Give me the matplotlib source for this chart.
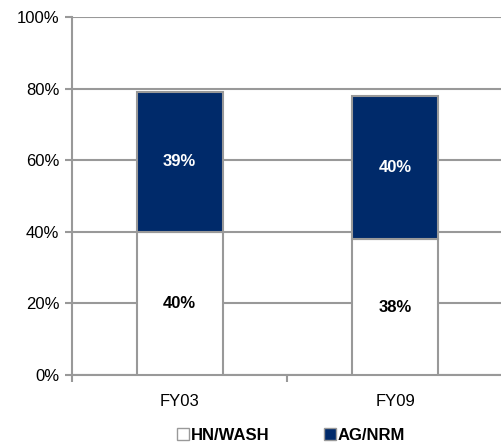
import matplotlib.pyplot as plt
from matplotlib.lines import Line2D

plt.rcParams['font.family'] = ['Liberation Sans', 'DejaVu Sans']

categories = ['FY03', 'FY09']
hn_wash = [40, 38]
ag_nrm = [39, 40]
hn_labels = ['40%', '38%']
ag_labels = ['39%', '40%']

navy = '#002a6a'
grey = '#999999'

fig = plt.figure(figsize=(5.01, 4.47), dpi=100)
ax = fig.add_axes([0.1437, 0.161, 0.86, 0.801])

x = range(len(categories))
b1 = ax.bar(x, hn_wash, width=0.4, color='white', edgecolor=grey, linewidth=1.5, zorder=3)
b2 = ax.bar(x, ag_nrm, width=0.4, bottom=hn_wash, color=navy, edgecolor=grey, linewidth=1.5, zorder=3)

for i in x:
    ax.text(i, hn_wash[i] / 2, hn_labels[i], ha='center', va='center',
            fontsize=12, fontweight='bold', color='black', zorder=4)
    ax.text(i, hn_wash[i] + ag_nrm[i] / 2, ag_labels[i], ha='center', va='center',
            fontsize=12, fontweight='bold', color='white', zorder=4)

ax.set_xlim(-0.5, 1.5)
ax.set_ylim(0, 100)
ax.set_yticks(range(0, 101, 20))
ax.set_yticklabels([f'{v}%' for v in range(0, 101, 20)], fontsize=12)
ax.yaxis.grid(True, color=grey, linewidth=1.5, zorder=0)
ax.set_axisbelow(True)

# category labels centered, tick marks between categories
ax.set_xticks([-0.5, 0.5, 1.5])
ax.set_xticklabels([])
ax.set_xticks([0, 1], minor=True)
ax.set_xticklabels(categories, minor=True, fontsize=12)
ax.tick_params(axis='x', which='minor', length=0, pad=14)
ax.tick_params(axis='x', which='major', length=5, color=grey, width=1.5, direction='out')
ax.tick_params(axis='y', length=5, color=grey, width=1.5, pad=4)

for s in ['top', 'right']:
    ax.spines[s].set_visible(False)
for s in ['left', 'bottom']:
    ax.spines[s].set_color(grey)
    ax.spines[s].set_linewidth(1.5)

handles = [
    Line2D([], [], marker='s', linestyle='none', markersize=8,
           markerfacecolor='white', markeredgecolor=grey),
    Line2D([], [], marker='s', linestyle='none', markersize=8,
           markerfacecolor=navy, markeredgecolor=grey),
]
fig.legend(handles, ['HN/WASH', 'AG/NRM'], loc='center', bbox_to_anchor=(0.58, 0.025),
           ncol=2, frameon=False, prop={'weight': 'bold', 'size': 12},
           handletextpad=0.1, columnspacing=3.2, handlelength=0.8)

fig.savefig('out.png', dpi=100)
